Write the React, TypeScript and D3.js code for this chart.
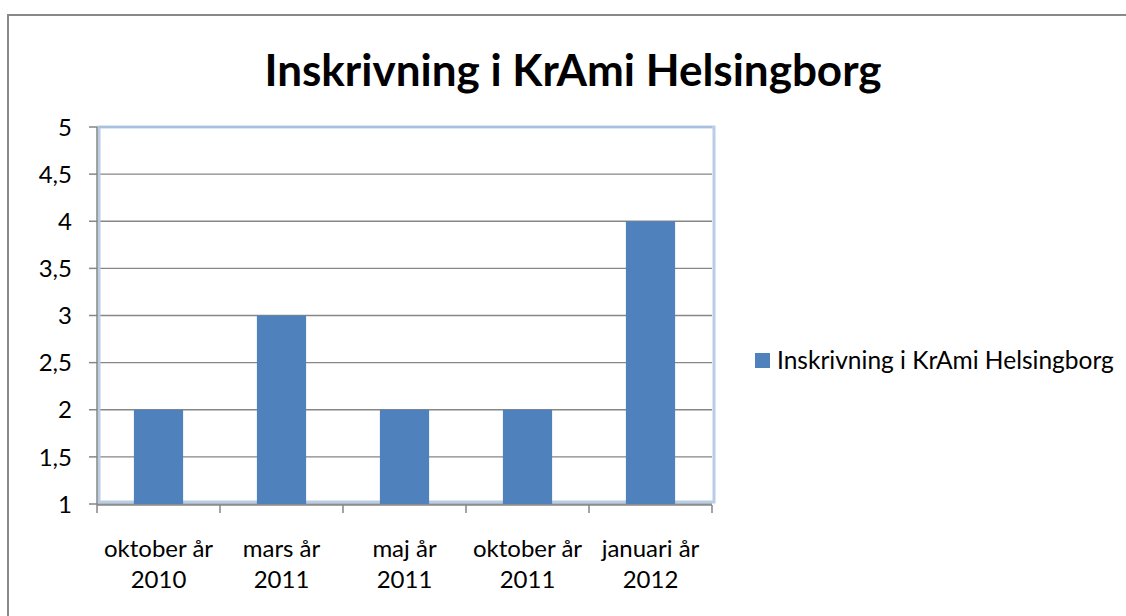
import React from "react";
import * as d3 from "d3";

const categories = [
  ["oktober år", "2010"],
  ["mars år", "2011"],
  ["maj år", "2011"],
  ["oktober år", "2011"],
  ["januari år", "2012"],
];
const values = [2, 3, 2, 2, 4];
const yTicks = [1, 1.5, 2, 2.5, 3, 3.5, 4, 4.5, 5];
const seriesName = "Inskrivning i KrAmi Helsingborg";
const chartTitle = "Inskrivning i KrAmi Helsingborg";

const width = 1126;
const height = 616;
const plot = { left: 97, right: 712, top: 127, bottom: 504 };
const font = "Lato, 'Open Sans', sans-serif";

const App = () => {
  const keys = categories.map((c, i) => String(i));

  const x = d3
    .scaleBand()
    .domain(keys)
    .range([plot.left, plot.right])
    .paddingInner(0)
    .paddingOuter(0);

  const y = d3.scaleLinear().domain([1, 5]).range([plot.bottom, plot.top]);

  const barW = x.bandwidth() / 2.5;
  const fmt = (v) => String(v).replace(".", ",");

  return (
    <svg
      width={width}
      height={height}
      style={{ position: "absolute", left: 0, top: 0, background: "#fff" }}
    >
      {/* outer chart border */}
      <rect x={8} y={15} width={1130} height={620} fill="#fff" stroke="#898989" strokeWidth={2} />

      <text
        x={573}
        y={86}
        textAnchor="middle"
        fontFamily={font}
        fontWeight="bold"
        fontSize={44}
        fill="#000"
      >
        {chartTitle}
      </text>

      {/* gridlines */}
      {yTicks.map((t) => (
        <line
          key={"g" + t}
          x1={plot.left}
          x2={plot.right}
          y1={y(t)}
          y2={y(t)}
          stroke="#868686"
          strokeWidth={1.3}
        />
      ))}

      {/* plot area border */}
      <rect
        x={plot.left + 2}
        y={plot.top}
        width={plot.right - plot.left}
        height={plot.bottom - plot.top - 2}
        fill="none"
        stroke="#b9cde5"
        strokeWidth={3}
      />
      <line x1={plot.left + 2} x2={plot.right} y1={plot.top} y2={plot.top} stroke="#95b3d7" strokeWidth={1} />

      {/* bars */}
      {values.map((v, i) => (
        <rect
          key={"b" + i}
          x={x(keys[i]) + (x.bandwidth() - barW) / 2}
          y={y(v)}
          width={barW}
          height={y(1) - y(v)}
          fill="#4f81bd"
        />
      ))}

      {/* y axis */}
      <line x1={plot.left} x2={plot.left} y1={plot.top} y2={plot.bottom + 1} stroke="#868686" strokeWidth={1.5} />
      {yTicks.map((t) => (
        <g key={"y" + t}>
          <line x1={plot.left - 8} x2={plot.left} y1={y(t)} y2={y(t)} stroke="#868686" strokeWidth={1.5} />
          <text
            x={72}
            y={y(t)}
            dy="0.36em"
            textAnchor="end"
            fontFamily={font}
            fontSize={24}
            fill="#000"
          >
            {fmt(t)}
          </text>
        </g>
      ))}

      {/* x axis */}
      <line x1={plot.left} x2={plot.right} y1={plot.bottom + 1} y2={plot.bottom + 1} stroke="#868686" strokeWidth={1.5} />
      {[...keys.map((k) => x(k)), plot.right].map((px, i) => (
        <line key={"xt" + i} x1={px} x2={px} y1={plot.bottom + 1} y2={plot.bottom + 9} stroke="#868686" strokeWidth={1.5} />
      ))}
      {categories.map((c, i) => (
        <text
          key={"xl" + i}
          x={x(keys[i]) + x.bandwidth() / 2}
          textAnchor="middle"
          fontFamily={font}
          fontSize={24}
          fill="#000"
        >
          <tspan x={x(keys[i]) + x.bandwidth() / 2} y={557}>
            {c[0]}
          </tspan>
          <tspan x={x(keys[i]) + x.bandwidth() / 2} y={588}>
            {c[1]}
          </tspan>
        </text>
      ))}

      {/* legend */}
      <rect x={755} y={353} width={15} height={15} fill="#4f81bd" />
      <text x={777} y={369} fontFamily={font} fontSize={24.5} fill="#000">
        {seriesName}
      </text>
    </svg>
  );
};

export default App;
